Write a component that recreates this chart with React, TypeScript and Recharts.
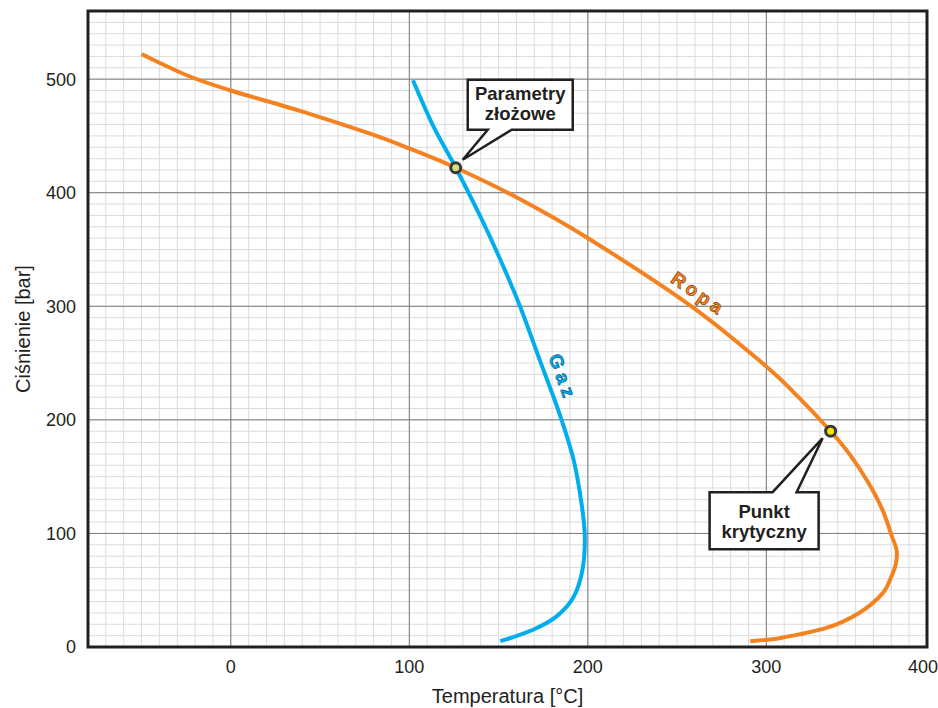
import React from "react";
import {
  LineChart,
  Line,
  XAxis,
  YAxis,
  CartesianGrid,
  ReferenceArea,
  ReferenceDot,
} from "recharts";

// Krzywe ropy i gazu, uporządkowane rosnąco wg ciśnienia
const ropaTemp = [291, 308, 334, 352, 365, 370, 372.5, 373, 370, 365, 357, 347, 336, 318, 300, 258, 199, 160, 126, 100, 78, 41, 0, -24, -50];
const ropaPres = [5, 8, 17, 30, 47, 62, 73, 85, 99, 121, 145, 169, 190, 220, 247, 300, 361, 396, 422, 439, 452, 471, 490, 503, 522];

const gazTemp = [151, 169, 182.5, 192, 197, 198.3, 196.5, 192, 184, 173, 162, 151, 139.5, 126, 113, 102];
const gazPres = [5, 15, 27, 44, 68, 97, 126, 165, 206, 253, 300, 341, 380, 422, 460, 499];

const reservoirPoint = [126, 422];
const criticalPoint = [336, 190];

const tempTicks = [0, 100, 200, 300, 400];
const presTicks = [0, 100, 200, 300, 400, 500];
const tempDomain: [number, number] = [-80, 390];
const presDomain: [number, number] = [0, 560];

const W = 938;
const H = 708;
const MARGIN = { top: 11, right: 11, bottom: 0, left: 0 };
const FONT = '"Liberation Sans", Arial, Helvetica, sans-serif';
const ORANGE = "#f58220";
const BLUE = "#00aeef";
const INK = "#231f20";

const ropaData = ropaTemp.map((t, i) => ({ t, p: ropaPres[i] }));
const gazData = gazTemp.map((t, i) => ({ t, p: gazPres[i] }));

const minorX = Array.from({ length: 48 }, (_, i) => -80 + i * 10);
const minorY = Array.from({ length: 57 }, (_, i) => i * 10);
const majorX = [0, 100, 200, 300];
const majorY = [100, 200, 300, 400, 500];

// krzywa Catmulla-Roma – gładka także tam, gdzie linia zawraca w poziomie
function catmullRom(context: any) {
  let pts: number[][] = [];
  return {
    areaStart() {},
    areaEnd() {},
    lineStart() {
      pts = [];
    },
    point(x: number, y: number) {
      pts.push([+x, +y]);
    },
    lineEnd() {
      const n = pts.length;
      if (!n) return;
      context.moveTo(pts[0][0], pts[0][1]);
      for (let i = 0; i < n - 1; i++) {
        const p0 = pts[Math.max(i - 1, 0)];
        const p1 = pts[i];
        const p2 = pts[i + 1];
        const p3 = pts[Math.min(i + 2, n - 1)];
        context.bezierCurveTo(
          p1[0] + (p2[0] - p0[0]) / 6,
          p1[1] + (p2[1] - p0[1]) / 6,
          p2[0] - (p3[0] - p1[0]) / 6,
          p2[1] - (p3[1] - p1[1]) / 6,
          p2[0],
          p2[1]
        );
      }
    },
  };
}

function TempTick({ x, y, payload }: any) {
  // ostatnia etykieta zostaje w obrębie ramki
  const maxX = W - MARGIN.right - 4;
  return (
    <text x={Math.min(x, maxX)} y={y} dy="0.71em" textAnchor="middle" fontSize={18} fill={INK} fontFamily={FONT}>
      {payload.value}
    </text>
  );
}

function center(viewBox: any) {
  return { cx: viewBox.x + viewBox.width / 2, cy: viewBox.y + viewBox.height / 2 };
}

function ReservoirCallout({ viewBox }: any) {
  const { cx, cy } = center(viewBox);
  const L = cx + 12, R = cx + 117, T = cy - 88, B = cy - 38;
  const d = `M${L},${T} H${R} V${B} H${cx + 56} L${cx + 7},${cy - 8} L${cx + 32},${B} H${L} Z`;
  const tx = (L + R) / 2;
  return (
    <g fontFamily={FONT} fontWeight="bold" fontSize={18.5} fill={INK}>
      <path d={d} fill="#fff" stroke={INK} strokeWidth={2.5} strokeLinejoin="miter" />
      <text x={tx} y={cy - 68} textAnchor="middle">Parametry</text>
      <text x={tx} y={cy - 48} textAnchor="middle">złożowe</text>
    </g>
  );
}

function CriticalCallout({ viewBox }: any) {
  const { cx, cy } = center(viewBox);
  const L = cx - 121, R = cx - 12, T = cy + 61, B = cy + 118;
  const d = `M${L},${T} H${cx - 58} L${cx - 8},${cy + 7} L${cx - 34},${T} H${R} V${B} H${L} Z`;
  const tx = (L + R) / 2;
  return (
    <g fontFamily={FONT} fontWeight="bold" fontSize={18.5} fill={INK}>
      <path d={d} fill="#fff" stroke={INK} strokeWidth={2.5} strokeLinejoin="miter" />
      <text x={tx} y={cy + 87} textAnchor="middle">Punkt</text>
      <text x={tx} y={cy + 107} textAnchor="middle">krytyczny</text>
    </g>
  );
}

function curveLabel(text: string, angle: number, fill: string, edge: string, spacing: number) {
  return ({ viewBox }: any) => {
    const { cx, cy } = center(viewBox);
    return (
      <text
        x={cx}
        y={cy}
        transform={`rotate(${angle} ${cx} ${cy})`}
        textAnchor="middle"
        dominantBaseline="central"
        fontFamily={FONT}
        fontSize={19}
        fontWeight="bold"
        letterSpacing={spacing}
        fill={fill}
        stroke={edge}
        strokeWidth={0.6}
      >
        {text}
      </text>
    );
  };
}

function PresLabel({ viewBox }: any) {
  const cx = 23;
  const cy = viewBox.y + viewBox.height / 2;
  return (
    <text x={cx} y={cy} transform={`rotate(-90 ${cx} ${cy})`} textAnchor="middle" dominantBaseline="central" fontSize={20} fill={INK} fontFamily={FONT}>
      Ciśnienie [bar]
    </text>
  );
}

function TempLabel({ viewBox }: any) {
  const cx = viewBox.x + viewBox.width / 2;
  return (
    <text x={cx} y={703} textAnchor="middle" fontSize={20} fill={INK} fontFamily={FONT}>
      Temperatura [°C]
    </text>
  );
}

export default function App() {
  return (
    <div style={{ position: "fixed", left: 0, top: 0, width: W, height: H, background: "#fff" }}>
      <LineChart width={W} height={H} margin={MARGIN}>
        <CartesianGrid stroke="#dcdcdc" strokeWidth={1} verticalValues={minorX} horizontalValues={minorY} />
        <CartesianGrid stroke="#7b7b7b" strokeWidth={1} verticalValues={majorX} horizontalValues={majorY} />
        <XAxis
          type="number"
          dataKey="t"
          domain={tempDomain}
          ticks={tempTicks}
          allowDataOverflow
          interval={0}
          height={61}
          axisLine={false}
          tickLine={false}
          tickSize={0}
          tickMargin={13}
          tick={<TempTick />}
          label={<TempLabel />}
        />
        <YAxis
          type="number"
          dataKey="p"
          domain={presDomain}
          ticks={presTicks}
          allowDataOverflow
          interval={0}
          width={88}
          axisLine={false}
          tickLine={false}
          tickSize={0}
          tickMargin={12}
          tick={{ fontSize: 18, fill: INK, fontFamily: FONT }}
          label={<PresLabel />}
        />
        <ReferenceArea x1={tempDomain[0]} x2={tempDomain[1]} y1={presDomain[0]} y2={presDomain[1]} fill="none" stroke={INK} strokeWidth={3} />
        <Line data={gazData} dataKey="p" type={catmullRom as any} stroke={BLUE} strokeWidth={4} dot={false} isAnimationActive={false} />
        <Line data={ropaData} dataKey="p" type={catmullRom as any} stroke={ORANGE} strokeWidth={4} dot={false} isAnimationActive={false} />
        <ReferenceDot x={262} y={311} r={1} fill="none" stroke="none" label={curveLabel("Ropa", 35, ORANGE, "#7a3a00", 3.5)} />
        <ReferenceDot x={186} y={237} r={1} fill="none" stroke="none" label={curveLabel("Gaz", 70, BLUE, "#00507a", 5)} />
        <ReferenceDot
          x={reservoirPoint[0]}
          y={reservoirPoint[1]}
          r={5}
          fill="#d2df7c"
          stroke="#383838"
          strokeWidth={3}
          label={ReservoirCallout}
        />
        <ReferenceDot
          x={criticalPoint[0]}
          y={criticalPoint[1]}
          r={5}
          fill="#f5e500"
          stroke="#383838"
          strokeWidth={3}
          label={CriticalCallout}
        />
      </LineChart>
    </div>
  );
}
